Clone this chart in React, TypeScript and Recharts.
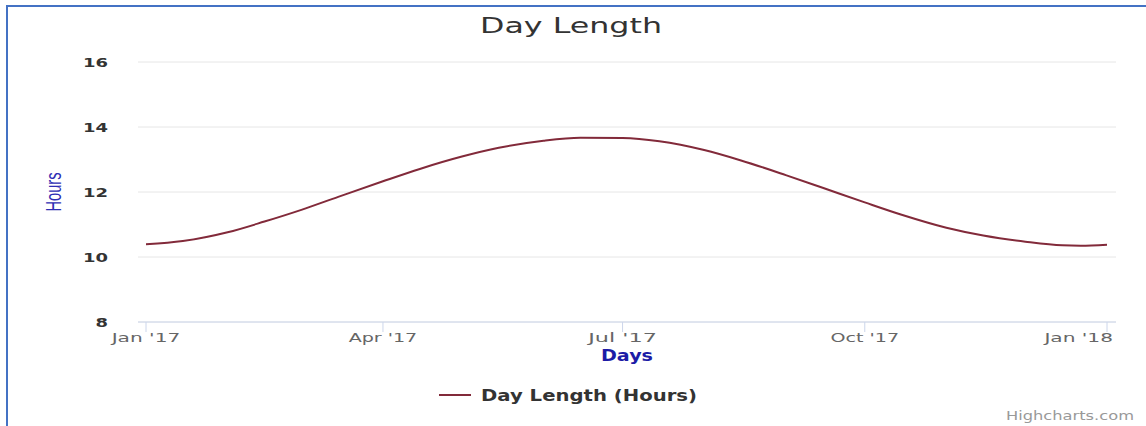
import { CartesianGrid, Legend, Line, LineChart, XAxis, YAxis } from "recharts";

const dates = [
  "2017-01-01", "2017-01-15", "2017-02-01", "2017-02-15", "2017-03-01",
  "2017-03-15", "2017-04-01", "2017-04-15", "2017-05-01", "2017-05-15",
  "2017-06-01", "2017-06-15", "2017-07-01", "2017-07-15", "2017-08-01",
  "2017-08-15", "2017-09-01", "2017-09-15", "2017-10-01", "2017-10-15",
  "2017-11-01", "2017-11-15", "2017-12-01", "2017-12-15", "2017-12-22",
  "2018-01-01"
];
const hours = [
  10.39, 10.49, 10.76, 11.09, 11.45,
  11.85, 12.33, 12.71, 13.09, 13.36,
  13.58, 13.67, 13.66, 13.56, 13.29,
  12.97, 12.52, 12.13, 11.68, 11.3,
  10.9, 10.66, 10.47, 10.36, 10.35,
  10.38
];
const tickDates = ["2017-01-01", "2017-04-01", "2017-07-01", "2017-10-01", "2018-01-01"];
const tickLabels = ["Jan '17", "Apr '17", "Jul '17", "Oct '17", "Jan '18"];
const yTicks = [8, 10, 12, 14, 16];

const toTime = (d: string) => Date.parse(d + "T00:00:00Z");
const data = dates.map((d, i) => ({ t: toTime(d), hours: hours[i] }));
const xTicks = tickDates.map(toTime);

const FONT = "'DejaVu Sans', Verdana, sans-serif";
const LINE = "#822a3a";

function XTick(props: any) {
  const { x, y, payload } = props;
  const i = xTicks.indexOf(payload.value);
  const label = tickLabels[i] ?? "";
  const last = i === xTicks.length - 1;
  return (
    <text
      x={last ? x + 6 : x}
      y={y + 10}
      textAnchor={last ? "end" : "middle"}
      fontFamily={FONT}
      fontSize={13}
      fill="#666"
      textLength={label.length * 9.8}
      lengthAdjust="spacingAndGlyphs"
    >
      {label}
    </text>
  );
}

function YTick(props: any) {
  const { x, y, payload } = props;
  const label = String(payload.value);
  return (
    <text
      x={x}
      y={y + 5}
      textAnchor="end"
      fontFamily={FONT}
      fontSize={13}
      fontWeight="bold"
      fill="#333"
      textLength={label.length * 12.5}
      lengthAdjust="spacingAndGlyphs"
    >
      {label}
    </text>
  );
}

function LegendBox() {
  return (
    <svg width={290} height={26}>
      <line x1={9} y1={12} x2={41} y2={12} stroke={LINE} strokeWidth={2} />
      <text
        x={51}
        y={18}
        fontFamily={FONT}
        fontSize={15}
        fontWeight="bold"
        fill="#333"
        textLength={216}
        lengthAdjust="spacingAndGlyphs"
      >
        Day Length (Hours)
      </text>
    </svg>
  );
}

export default function App() {
  return (
    <div style={{ position: "absolute", left: 0, top: 0, width: 1146, height: 426, background: "#fff", overflow: "hidden" }}>
      <div
        style={{
          position: "absolute",
          left: 6,
          top: 5,
          width: 1160,
          height: 440,
          border: "2px solid #4472c4",
          boxSizing: "border-box"
        }}
      />
      <LineChart
        width={1146}
        height={426}
        data={data}
        margin={{ top: 62, right: 30, bottom: 74, left: 0 }}
      >
        <CartesianGrid vertical={false} stroke="#e6e6e6" />
        <XAxis
          dataKey="t"
          type="number"
          domain={[xTicks[0], xTicks[xTicks.length - 1]]}
          ticks={xTicks}
          interval={0}
          padding={{ left: 8, right: 9 }}
          tickSize={10}
          tickMargin={0}
          stroke="#ccd6eb"
          tick={<XTick />}
          label={{
            content: (p: any) => {
              const vb = p.viewBox;
              return (
                <text
                  x={vb.x + vb.width / 2}
                  y={361}
                  textAnchor="middle"
                  fontFamily={FONT}
                  fontSize={15}
                  fontWeight="bold"
                  fill="#1c1ca6"
                  textLength={52}
                  lengthAdjust="spacingAndGlyphs"
                >
                  Days
                </text>
              );
            }
          }}
        />
        <YAxis
          width={138}
          domain={[8, 16]}
          ticks={yTicks}
          interval={0}
          axisLine={false}
          tickLine={false}
          tickSize={0}
          tickMargin={30}
          tick={<YTick />}
          label={{
            content: (p: any) => {
              const vb = p.viewBox;
              const cy = vb.y + vb.height / 2;
              return (
                <text
                  x={61}
                  y={cy}
                  transform={`rotate(-90, 61, ${cy})`}
                  textAnchor="middle"
                  fontFamily="'Liberation Sans Narrow', 'Liberation Sans', sans-serif"
                  fontSize={22}
                  fill="#2e2eb4"
                  textLength={39}
                  lengthAdjust="spacingAndGlyphs"
                >
                  Hours
                </text>
              );
            }
          }}
        />
        <Legend
          layout="horizontal"
          verticalAlign="middle"
          align="center"
          content={() => <LegendBox />}
          wrapperStyle={{ position: "absolute", left: 430, top: 383, width: 290, height: 26 }}
        />
        <Line
          type="monotone"
          dataKey="hours"
          name="Day Length (Hours)"
          stroke={LINE}
          strokeWidth={2}
          dot={false}
          activeDot={false}
          isAnimationActive={false}
        />
      </LineChart>
      <svg
        width={1146}
        height={426}
        style={{ position: "absolute", left: 0, top: 0, pointerEvents: "none" }}
      >
        <text
          x={480}
          y={33}
          fontFamily={FONT}
          fontSize={22}
          fill="#333"
          textLength={182}
          lengthAdjust="spacingAndGlyphs"
        >
          Day Length
        </text>
        <text
          x={1006}
          y={420}
          fontFamily={FONT}
          fontSize={12}
          fill="#999"
          textLength={128}
          lengthAdjust="spacingAndGlyphs"
        >
          Highcharts.com
        </text>
      </svg>
    </div>
  );
}
